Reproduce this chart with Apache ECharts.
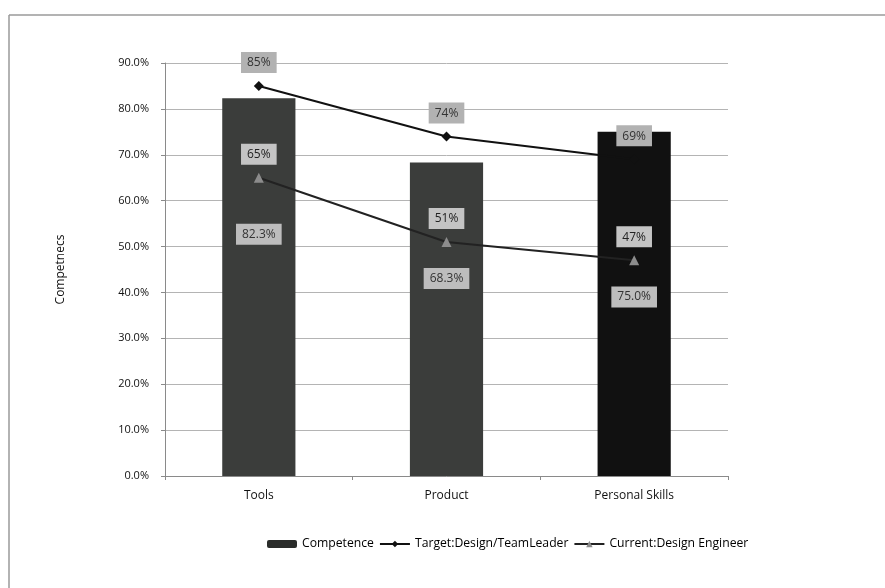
<!DOCTYPE html>
<html>
<head>
<meta charset="utf-8">
<script src="https://cdn.jsdelivr.net/npm/echarts@6/dist/echarts.min.js"></script>
<style>
html,body{margin:0;padding:0;background:#fff;}
#chart{width:885px;height:588px;}
</style>
</head>
<body>
<div id="chart"></div>
<script>
const categories = ['Tools', 'Product', 'Personal Skills'];
const competence = [82.3, 68.3, 75.0];
const target = [85, 74, 69];
const current = [65, 51, 47];
const yTicks = { min: 0, max: 90, interval: 10 };

const FONT = '"Open Sans", "Liberation Sans", sans-serif';
const barColors = ['#3b3d3b', '#3b3d3b', '#111111'];
const barLabelY = ['36%', '37%', '48%'];

const chart = echarts.init(document.getElementById('chart'));
const option = {
  backgroundColor: '#ffffff',
  animation: false,
  textStyle: { fontFamily: FONT },
  graphic: [
    { type: 'line', shape: { x1: 9, y1: 15, x2: 885, y2: 15 }, style: { stroke: '#9a9a9a', lineWidth: 1.5 }, silent: true },
    { type: 'line', shape: { x1: 9, y1: 15, x2: 9, y2: 588 }, style: { stroke: '#9a9a9a', lineWidth: 1.5 }, silent: true }
  ],
  grid: { left: 165, right: 157, top: 63, bottom: 112 },
  legend: {
    bottom: 33,
    left: 262,
    itemWidth: 30,
    itemHeight: 8,
    itemGap: 5,
    textStyle: { fontFamily: FONT, fontSize: 12.2, color: '#000' },
    data: ['Competence', 'Target:Design/TeamLeader', 'Current:Design Engineer']
  },
  xAxis: {
    type: 'category',
    data: categories,
    axisLine: { lineStyle: { color: '#8a8a8a' } },
    axisTick: { show: true, lineStyle: { color: '#8a8a8a' }, length: 4 },
    axisLabel: { fontFamily: FONT, fontSize: 12, color: '#111', margin: 14 }
  },
  yAxis: {
    type: 'value',
    min: yTicks.min,
    max: yTicks.max,
    interval: yTicks.interval,
    name: 'Competnecs',
    nameLocation: 'middle',
    nameGap: 98,
    nameTextStyle: { fontFamily: FONT, fontSize: 12, color: '#111' },
    axisLine: { show: true, lineStyle: { color: '#8a8a8a' } },
    axisTick: { show: true, lineStyle: { color: '#8a8a8a' }, length: 4 },
    axisLabel: { fontFamily: FONT, fontSize: 11, color: '#111', margin: 16, formatter: v => v.toFixed(1) + '%' },
    splitLine: { lineStyle: { color: '#b4b4b4' } }
  },
  series: [
    {
      name: 'Competence',
      type: 'bar',
      barWidth: '39%',
      itemStyle: { color: '#2a2c2a' },
      data: competence.map((v, i) => ({
        value: v,
        itemStyle: { color: barColors[i] },
        label: { position: ['50%', barLabelY[i]] }
      })),
      label: {
        show: true,
        align: 'center',
        verticalAlign: 'middle',
        formatter: p => p.value.toFixed(1) + '%',
        fontFamily: FONT,
        fontSize: 12,
        color: '#333',
        backgroundColor: '#bdbdbd',
        padding: [5, 6, 4, 6]
      },
      z: 2
    },
    {
      name: 'Target:Design/TeamLeader',
      type: 'line',
      data: target,
      symbol: 'diamond',
      symbolSize: 10,
      lineStyle: { color: '#111', width: 2 },
      itemStyle: { color: '#111' },
      label: {
        show: true,
        position: 'top',
        distance: 8,
        formatter: p => p.value + '%',
        fontFamily: FONT,
        fontSize: 12,
        color: '#333',
        backgroundColor: '#b2b2b2',
        padding: [5, 6, 4, 6]
      },
      z: 3
    },
    {
      name: 'Current:Design Engineer',
      type: 'line',
      data: current,
      symbol: 'triangle',
      symbolSize: 10,
      lineStyle: { color: '#222', width: 2 },
      itemStyle: { color: '#8c8c8c' },
      label: {
        show: true,
        position: 'top',
        distance: 8,
        formatter: p => p.value + '%',
        fontFamily: FONT,
        fontSize: 12,
        color: '#222',
        backgroundColor: '#c4c4c4',
        padding: [5, 6, 4, 6]
      },
      z: 4
    }
  ]
};
chart.setOption(option);
</script>
</body>
</html>
